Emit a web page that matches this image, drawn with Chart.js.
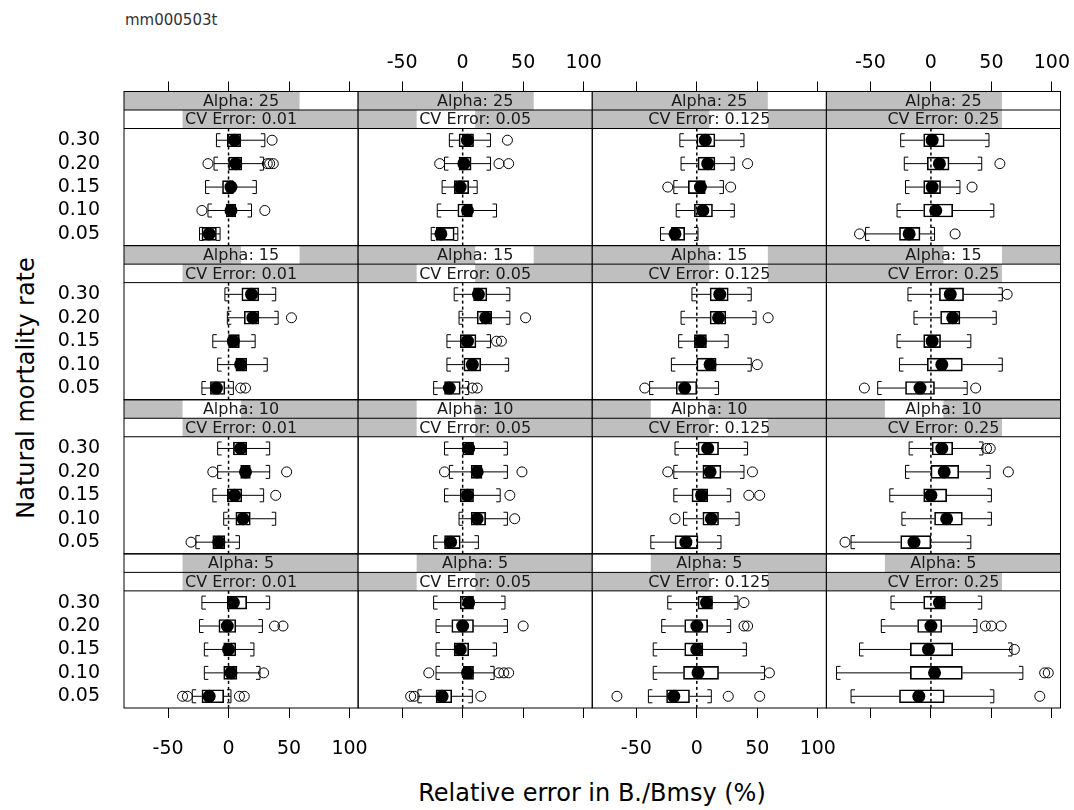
<!DOCTYPE html>
<html><head><meta charset="utf-8">
<script src="https://cdn.jsdelivr.net/npm/chart.js@4.4.1/dist/chart.umd.min.js"></script>
<style>
html,body{margin:0;padding:0;background:#fff;}
#wrap{position:relative;width:1074px;height:810px;overflow:hidden;background:#fff;font-family:'DejaVu Sans',sans-serif;}
#wrap canvas{position:absolute;}
.t{position:absolute;white-space:nowrap;color:#000;line-height:1;}
</style></head><body>
<div id="wrap">
 <div class="t" style="left:125px;top:13px;font-size:15px;color:#333;">mm000503t</div>
 <div class="t" style="left:26px;top:388px;font-size:24px;transform:translate(-50%,-50%) rotate(-90deg);">Natural mortality rate</div>
 <div class="t" style="left:592px;top:793px;font-size:24px;transform:translate(-50%,-50%);">Relative error in B./Bmsy (%)</div>
</div>
<script>
// ---------- categories / ticks ----------
const alphaRows   = ['25','15','10','5'];            // strip rows, top to bottom
const alphaLevels = ['5','10','15','25'];            // factor order (strip shading)
const cvLevels    = ['0.01','0.05','0.125','0.25'];  // columns
const mortality   = ['0.05','0.10','0.15','0.20','0.30']; // y categories, bottom -> top
const xTicks      = [-50, 0, 50, 100];
const xLimits     = [-86.4, 107.1];

// ---------- box stats per panel: [lower whisker, Q1, median, Q3, upper whisker], rows in mortality order ----------
// Alpha 25
const box_a25_cv001  = [[-24,-22,-16,-10,-7],[-17,-2,2,6,19],[-19,-5,2,4,23],[-12,0,6,11,29],[-10,-1,5,10,30]];
const out_a25_cv001  = [[],[-22,30],[],[-17,32,34,37],[36]];
const box_a25_cv005  = [[-26,-22,-18,-7,-4],[-21,-4,4,8,28],[-17,-7,-2,5,12],[-15,-3,1,7,23],[-11,-3,4,9,23]];
const out_a25_cv005  = [[],[],[],[-19,30,38],[37]];
const box_a25_cv0125 = [[-30,-21,-18,-10,1],[-17,-2,5,13,31],[-19,-7,3,7,22],[-13,1,9,15,31],[-14,0,7,15,39]];
const out_a25_cv0125 = [[],[],[-24,28],[42],[]];
const box_a25_cv025  = [[-54,-26,-18,-9,3],[-28,-6,4,18,52],[-21,-6,1,8,24],[-22,-3,7,15,42],[-25,-6,1,11,48]];
const out_a25_cv025  = [[-59,20],[],[34],[57],[]];
// Alpha 15
const box_a15_cv001  = [[-22,-15,-10,-3,4],[-9,6,10,15,32],[-13,0,4,9,22],[-1,13,20,25,41],[-3,11,19,25,39]];
const out_a15_cv001  = [[10,14],[],[],[52],[]];
const box_a15_cv005  = [[-24,-15,-11,-2,5],[-13,1,8,15,38],[-13,-2,4,11,23],[-3,12,19,24,39],[-7,9,13,20,39]];
const out_a15_cv005  = [[8,12],[],[28,32],[52],[]];
const box_a15_cv0125 = [[-39,-17,-10,0,18],[-21,0,11,16,45],[-15,-2,3,8,26],[-13,11,18,24,49],[-4,11,19,26,45]];
const out_a15_cv0125 = [[-43],[50],[],[59],[]];
const box_a15_cv025  = [[-44,-21,-9,3,30],[-26,-3,9,26,59],[-28,-6,1,8,33],[-14,8,18,24,54],[-19,7,16,27,59]];
const out_a15_cv025  = [[-55,37],[],[],[],[63]];
// Alpha 10
const box_a10_cv001  = [[-27,-13,-8,-3,9],[-4,6,12,18,39],[-13,-1,5,11,29],[-9,10,14,18,34],[-9,4,10,15,34]];
const out_a10_cv001  = [[-31],[],[39],[-13,48],[]];
const box_a10_cv005  = [[-24,-15,-10,-2,13],[-3,7,12,19,37],[-15,-2,4,9,31],[-11,7,12,16,37],[-15,0,5,9,37]];
const out_a10_cv005  = [[],[43],[39],[-15,49],[]];
const box_a10_cv0125 = [[-38,-18,-9,1,20],[-11,5,12,18,35],[-19,-4,4,9,28],[-19,5,11,20,39],[-18,1,9,18,42]];
const out_a10_cv0125 = [[],[-18],[43,52],[-24,46],[]];
const box_a10_cv025  = [[-66,-25,-14,0,33],[-24,3,13,26,50],[-34,-6,0,13,50],[-21,0,11,23,49],[-18,1,9,18,43]];
const out_a10_cv025  = [[-71],[],[],[64],[46,49]];
// Alpha 5
const box_a5_cv001   = [[-30,-22,-16,-4,2],[-20,-4,2,7,26],[-20,-4,0,6,21],[-24,-8,-1,6,28],[-22,-1,4,15,34]];
const out_a5_cv001   = [[-38,-34,9,13],[29],[],[38,45],[]];
const box_a5_cv005   = [[-37,-22,-17,-9,8],[-22,0,4,9,26],[-22,-7,-2,5,28],[-22,-9,0,9,37],[-24,-2,5,9,35]];
const out_a5_cv005   = [[-43,-40,15],[-28,30,34,38],[],[50],[]];
const box_a5_cv0125  = [[-40,-25,-19,-6,12],[-36,-11,1,18,56],[-36,-10,0,5,41],[-29,-10,0,9,28],[-24,1,8,13,34]];
const out_a5_cv0125  = [[-66,26,52],[60],[],[39,42],[39]];
const box_a5_cv025   = [[-66,-26,-10,11,52],[-78,-17,3,26,76],[-59,-17,-2,18,67],[-41,-11,0,9,38],[-33,-6,7,12,42]];
const out_a5_cv025   = [[90],[94,97],[69],[45,50,58],[]];

const boxGrid = [
  [box_a25_cv001, box_a25_cv005, box_a25_cv0125, box_a25_cv025],
  [box_a15_cv001, box_a15_cv005, box_a15_cv0125, box_a15_cv025],
  [box_a10_cv001, box_a10_cv005, box_a10_cv0125, box_a10_cv025],
  [box_a5_cv001,  box_a5_cv005,  box_a5_cv0125,  box_a5_cv025]
];
const outGrid = [
  [out_a25_cv001, out_a25_cv005, out_a25_cv0125, out_a25_cv025],
  [out_a15_cv001, out_a15_cv005, out_a15_cv0125, out_a15_cv025],
  [out_a10_cv001, out_a10_cv005, out_a10_cv0125, out_a10_cv025],
  [out_a5_cv001,  out_a5_cv005,  out_a5_cv0125,  out_a5_cv025]
];

// ---------- layout ----------
const plotLeft = 124, plotRight = 1060.5, plotTop = 91.5, plotBottom = 708;
const stripH = 18.5;
const colW = (plotRight - plotLeft) / 4;
const rowH = (plotBottom - plotTop) / 4;
const panelH = rowH - 2 * stripH;
const yLo = 0.5, yHi = mortality.length + 0.5;
const yTop = yHi + 2 * stripH / (panelH / (yHi - yLo));
const M = 24;
const FONT = "'DejaVu Sans', sans-serif";
const stripGray = '#bfbfbf';
const capH = 13, capStub = 4;
const wrap = document.getElementById('wrap');

function noPad(s) { s.paddingLeft = 0; s.paddingRight = 0; s.paddingTop = 0; s.paddingBottom = 0; }

function panelPlugin(r, c, box) {
  return {
    id: 'panel',
    beforeDatasetsDraw(chart) {
      const {ctx, chartArea: a} = chart;
      const xs = chart.scales.x, ys = chart.scales.y;
      const sBot = ys.getPixelForValue(yHi);
      const sMid = (a.top + sBot) / 2;
      ctx.save();
      const strips = [
        {y0: a.top, y1: sMid, idx: alphaLevels.indexOf(alphaRows[r]), text: 'Alpha: ' + alphaRows[r]},
        {y0: sMid, y1: sBot, idx: c, text: 'CV Error: ' + cvLevels[c]}
      ];
      strips.forEach(s => {
        ctx.fillStyle = stripGray;
        ctx.fillRect(a.left, s.y0, a.width, s.y1 - s.y0);
        ctx.fillStyle = '#fff';
        ctx.fillRect(a.left + a.width * s.idx / 4, s.y0, a.width / 4, s.y1 - s.y0);
        ctx.fillStyle = '#1a1a1a';
        ctx.font = '16px ' + FONT;
        ctx.textAlign = 'center';
        ctx.textBaseline = 'middle';
        ctx.fillText(s.text, a.left + a.width / 2, (s.y0 + s.y1) / 2 + 1);
      });
      ctx.strokeStyle = '#000';
      ctx.lineWidth = 1;
      [a.top, sMid, sBot].forEach(yy => {
        ctx.beginPath(); ctx.moveTo(a.left, yy); ctx.lineTo(a.right, yy); ctx.stroke();
      });
      ctx.strokeRect(a.left, a.top, a.width, a.height);
      // reference line at 0
      const x0 = xs.getPixelForValue(0);
      ctx.setLineDash([3, 3]);
      ctx.lineWidth = 1.5;
      ctx.beginPath(); ctx.moveTo(x0, sBot); ctx.lineTo(x0, a.bottom); ctx.stroke();
      ctx.setLineDash([]);
      ctx.lineWidth = 1;
      // whiskers + caps
      box.forEach((s, i) => {
        const yy = ys.getPixelForValue(i + 1);
        const pl = xs.getPixelForValue(s[0]), p1 = xs.getPixelForValue(s[1]);
        const p3 = xs.getPixelForValue(s[3]), ph = xs.getPixelForValue(s[4]);
        ctx.beginPath();
        ctx.moveTo(pl, yy); ctx.lineTo(p1, yy);
        ctx.moveTo(p3, yy); ctx.lineTo(ph, yy);
        ctx.moveTo(pl + capStub, yy - capH / 2); ctx.lineTo(pl, yy - capH / 2);
        ctx.lineTo(pl, yy + capH / 2); ctx.lineTo(pl + capStub, yy + capH / 2);
        ctx.moveTo(ph - capStub, yy - capH / 2); ctx.lineTo(ph, yy - capH / 2);
        ctx.lineTo(ph, yy + capH / 2); ctx.lineTo(ph - capStub, yy + capH / 2);
        ctx.stroke();
      });
      ctx.restore();
    }
  };
}

function xAxis(pos, show, labels, h, pad) {
  return {
    type: 'linear', position: pos, min: xLimits[0], max: xLimits[1], offset: false, display: show,
    afterBuildTicks: s => { s.ticks = xTicks.map(v => ({value: v})); },
    afterFit: s => { s.height = show ? h : 0; noPad(s); },
    grid: {display: true, drawOnChartArea: false, drawTicks: true, tickLength: 10, color: '#000', tickColor: '#000', lineWidth: 1},
    border: {display: false},
    ticks: {color: labels ? '#000' : 'rgba(0,0,0,0)', font: {family: FONT, size: 19}, padding: pad,
            maxRotation: 0, autoSkip: false, callback: v => String(v)}
  };
}

for (let r = 0; r < 4; r++) {
  for (let c = 0; c < 4; c++) {
    const cl = plotLeft + c * colW, cr = cl + colW;
    const rt = plotTop + r * rowH, rb = rt + rowH;
    const L = c === 0 ? 0 : Math.floor(cl - M);
    const R = Math.min(1074, Math.ceil(cr + M));
    const T = r === 0 ? 28 : Math.floor(rt - M);
    const B = r === 3 ? 790 : Math.ceil(rb + M);
    const cv = document.createElement('canvas');
    cv.width = R - L; cv.height = B - T;
    cv.style.left = L + 'px'; cv.style.top = T + 'px';
    cv.style.width = (R - L) + 'px'; cv.style.height = (B - T) + 'px';
    wrap.appendChild(cv);
    const box = boxGrid[r][c], out = outGrid[r][c];
    new Chart(cv, {
      type: 'scatter',
      data: {datasets: [
        {type: 'scatter', label: 'median', data: box.map((s, i) => ({x: s[2], y: i + 1})),
         pointRadius: 6.5, pointHoverRadius: 6.5, backgroundColor: '#000', borderColor: '#000', borderWidth: 0, order: 1},
        {type: 'scatter', label: 'outliers', data: out.flatMap((o, i) => o.map(v => ({x: v, y: i + 1}))),
         pointRadius: 5, pointHoverRadius: 5, backgroundColor: 'rgba(0,0,0,0)', borderColor: '#000', borderWidth: 1, order: 2},
        {type: 'bar', label: 'box', indexAxis: 'y', data: box.map((s, i) => ({x: [s[1], s[3]], y: i + 1})),
         backgroundColor: 'rgba(0,0,0,0)', borderColor: '#000', borderWidth: 1, borderSkipped: false, barThickness: 13, order: 3}
      ]},
      options: {
        responsive: false, animation: false, devicePixelRatio: 1, events: [],
        layout: {autoPadding: false, padding: {
          left: c === 0 ? 0 : cl - L, right: R - cr,
          top: r === 0 ? 0 : rt - T, bottom: r === 3 ? 0 : B - rb}},
        plugins: {legend: {display: false}, tooltip: {enabled: false}},
        scales: {
          x: xAxis('bottom', r === 3, c % 2 === 0, B - rb, 20),
          x2: xAxis('top', r === 0, c % 2 === 1, rt - T, 7),
          y: {
            type: 'linear', min: yLo, max: yTop, offset: false, display: c === 0,
            afterBuildTicks: s => { s.ticks = mortality.map((m, i) => ({value: i + 1})); },
            afterFit: s => { s.width = c === 0 ? cl - L : 0; noPad(s); },
            grid: {display: false, drawTicks: false}, border: {display: false},
            ticks: {color: '#000', font: {family: FONT, size: 19}, padding: 24, autoSkip: false,
                    callback: v => mortality[v - 1]}
          }
        }
      },
      plugins: [panelPlugin(r, c, box)]
    });
  }
}
</script>
</body></html>
